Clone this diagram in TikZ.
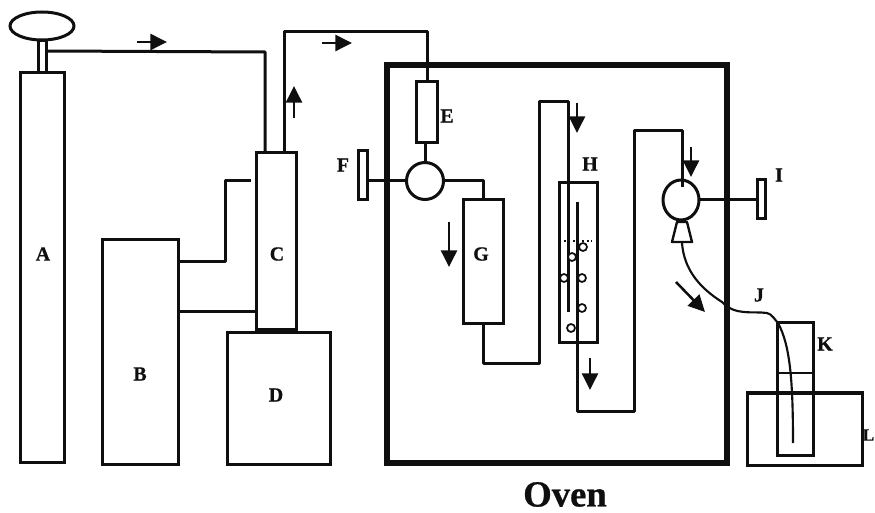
\documentclass[tikz,border=0pt]{standalone}
\usepackage{fontspec}
\setmainfont{Liberation Serif}
\newfontfamily\heavy[UprightFont={* Bold},FakeBold=0.7]{Liberation Serif}
\usetikzlibrary{arrows.meta,shapes.geometric}
\newcommand\pbox[6][]{\node[boxs,#1,minimum width={(#5-#3)*0.75pt},minimum height={(#6-#4)*0.75pt}] (#2) at ({(#3+#5)/2},{(#4+#6)/2}) {};}
\definecolor{ink}{gray}{0.06}
\tikzset{
  boxs/.style={draw=ink,line width=2.25pt,inner sep=0pt,outer sep=0pt,rectangle},
  pipe/.style={draw=ink,line width=2.25pt,line join=round},
  thin pipe/.style={draw=ink,line width=1.6pt,line join=round},
  flow/.style={draw=ink,line width=1.9pt,-{Triangle[length=12.5pt,width=12pt]}},
  lab/.style={font=\heavy\fontsize{15}{15}\selectfont,text=ink,inner sep=0pt},
  bubble/.style={circle,draw=ink,line width=1.3pt,minimum size=6pt,inner sep=0pt,fill=white},
}
\begin{document}
\begin{tikzpicture}[x=0.75pt,y=-0.75pt]
\useasboundingbox (0,0) rectangle (875,513);
% gas cylinder
\node[draw=ink,line width=2.25pt,ellipse,minimum width={64*0.75pt},minimum height={28*0.75pt},inner sep=0pt] (valve) at (42,26) {};
\pbox{stem}{38}{41}{46}{73}
\pbox{A}{20}{73}{64}{462}
\pbox{B}{102}{240}{178}{464}
\pbox{C}{256}{153}{296}{330}
\pbox{D}{227}{333}{330}{464}
\node[draw=ink,line width=4.6pt,rectangle,inner sep=0pt,minimum width={340*0.75pt},minimum height={398*0.75pt}] (oven) at (557,264) {};
\pbox{E}{416}{82}{437}{143}
\pbox{Fh}{358}{151}{367}{200}
\node[draw=ink,line width=2.25pt,circle,minimum size={37*0.75pt},inner sep=0pt,outer sep=0pt] (valveF) at (425,181) {};
\pbox{G}{463}{200}{503}{324}
\pbox{H}{559}{183}{597}{343}
\node[draw=ink,line width=2.25pt,ellipse,minimum width={36*0.75pt},minimum height={40*0.75pt},inner sep=0pt,outer sep=0pt] (valveI) at (681,200) {};
\pbox{Ih}{757}{180}{765}{219}
\pbox{K}{777}{323}{813}{455}
\pbox{Lb}{747}{393}{862}{465}
% coordinates of connector ends
\coordinate (p1) at (46,51);
\coordinate (p1b) at (265,52);
\coordinate (c1) at (265,153);
\coordinate (c2) at (284,153);
\coordinate (p2) at (284,32);
\coordinate (p3) at (427,32);
\coordinate (e1) at (427,82);
\coordinate (b1) at (178,262);
\coordinate (b1a) at (225,262);
\coordinate (b1b) at (225,181);
\coordinate (c3) at (251,181);
\coordinate (b2) at (178,312);
\coordinate (c4) at (256,312);
\coordinate (gt) at (483,200);
\coordinate (gb) at (483,324);
\coordinate (g1) at (483,364);
\coordinate (g2) at (539,364);
\coordinate (g3) at (539,102);
\coordinate (g4) at (568,102);
\coordinate (ht) at (568,183);
\coordinate (ht2) at (568,312);
\coordinate (hb0) at (577,202);
\coordinate (hb) at (577,411);
\coordinate (r1) at (634,411);
\coordinate (r2) at (634,131);
\coordinate (r3) at (682,131);
\coordinate (r4) at (682,187);
\coordinate (conetop1) at (677,222);
\coordinate (conetop2) at (687,222);
\coordinate (conebot1) at (672,242);
\coordinate (conebot2) at (692,242);
\coordinate (j0) at (682,243);
\coordinate (j1) at (722,302);
\coordinate (j2) at (767,313);
\coordinate (j3) at (778,323);
\coordinate (j4) at (793,443);
\coordinate (k1) at (777,373);
\coordinate (k2) at (813,373);
% connectors
\draw[pipe] (p1) -- (p1b) -- (c1);
\draw[pipe] (c2) -- (p2) -- (p3) -- (e1);
\draw[pipe] (E.south -| valveF) -- (valveF.north);
\draw[pipe] (b1) -- (b1a) -- (b1b) -- (c3);
\draw[pipe] (b2) -- (c4);
\draw[pipe] (Fh.east |- valveF.west) -- (valveF.west);
\draw[pipe] (valveF.east) -- (valveF.east -| gt) -- (gt);
\draw[pipe] (gb) -- (g1) -- (g2) -- (g3) -- (g4) -- (ht) -- (ht2);
\draw[pipe] (hb0) -- (hb) -- (r1) -- (r2) -- (r3) -- (r4);
\draw[pipe] (valveI.east) -- (Ih.west |- valveI.east);
\draw[line width=1.8pt,draw=ink,line join=round] (conetop1) -- (conetop2) -- (conebot2) -- (conebot1) -- cycle;
\draw[thin pipe] (j0) .. controls (684,270) and (700,288) .. (j1) .. controls (735,316) and (752,311) .. (j2) .. controls (772,314) and (775,320) .. (j3) .. controls (790,345) and (793,380) .. (j4);
\draw[thin pipe] (k1) -- (k2);
% bubbles
\draw[draw=ink,line width=1.4pt,dotted] (564,241) -- (592,241);
\node[bubble] (b1x) at (583,247) {};
\node[bubble] (b2x) at (572,257) {};
\node[bubble] (b3x) at (582,278) {};
\node[bubble] (b4x) at (564,278) {};
\node[bubble] (b5x) at (582,308) {};
\node[bubble] (b6x) at (571,328) {};
\draw[pipe] (hb0) -- (hb);
% flow arrows
\draw[flow] (137,42) -- (167,42);
\draw[flow] (322,43) -- (352,43);
\draw[flow] (294,118) -- (294,86);
\draw[flow] (449,222) -- (449,267);
\draw[flow] (577,103) -- (577,133);
\draw[flow] (590,358) -- (590,390);
\draw[flow] (691,147) -- (691,177);
\draw[flow] (676,282) -- (705,312);
% labels
\node[lab] (tA) at (43,254) {A};
\node[lab] (tB) at (140,374) {B};
\node[lab] (tC) at (277,254) {C};
\node[lab] (tD) at (276,395) {D};
\node[lab] (tE) at (447,116) {E};
\node[lab] (tF) at (343,165) {F};
\node[lab] (tG) at (481,254) {G};
\node[lab] (tH) at (590,164) {H};
\node[lab] (tI) at (779,175) {I};
\node[lab] (tJ) at (759,295) {J};
\node[lab] (tK) at (825,344) {K};
\node[lab,anchor=east,font=\heavy\fontsize{13}{13}\selectfont] (tL) at (874.5,435) {L};
\node[font=\heavy\fontsize{27.5}{27.5}\selectfont,text=ink,inner sep=0pt] (tOven) at (565,494.5) {Oven};
\end{tikzpicture}
\end{document}
